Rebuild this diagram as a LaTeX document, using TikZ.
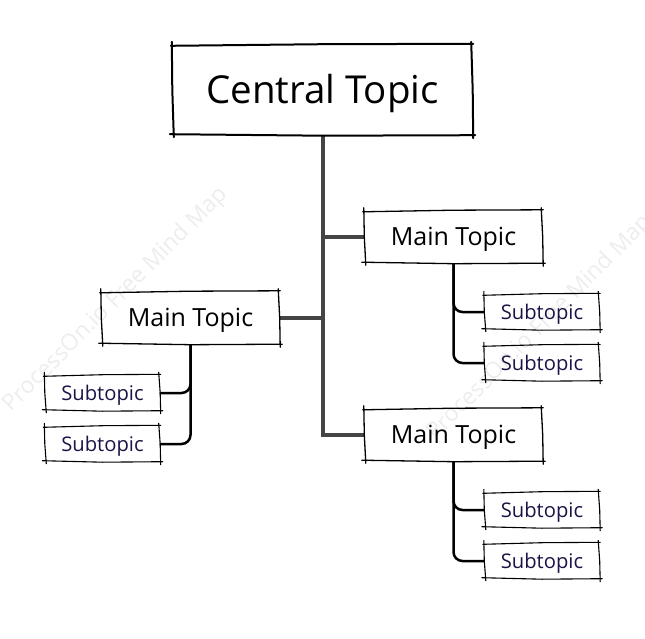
\documentclass[tikz,border=0pt]{standalone}
\usepackage{fontspec}
\setmainfont{Open Sans}
\usetikzlibrary{calc}
\definecolor{trunk}{HTML}{444444}
\definecolor{subtxt}{HTML}{1A1446}
\tikzset{
 central/.style={font=\fontsize{38.5}{44}\selectfont, minimum width=299pt, minimum height=90pt, inner sep=0pt, text height=27.5pt, text depth=0pt},
 maintopic/.style={font=\fontsize{25}{29}\selectfont, minimum width=177pt, minimum height=52pt, inner sep=0pt, text height=17.9pt, text depth=0pt},
 subtopic/.style={font=\fontsize{20.2}{24}\selectfont, text=subtxt, minimum width=114pt, minimum height=35pt, inner sep=0pt, text height=14.4pt, text depth=0pt},
 trunkline/.style={draw=trunk, line width=4pt},
 subline/.style={draw=black, line width=2.5pt, rounded corners=9pt},
 watermark/.style={rotate=45, text=black!7, font=\fontsize{23}{27}\selectfont},
}
\newcommand{\roughbox}[2]{%
 \draw[line width=#2, line cap=round]
   ($(#1.north west)+(-2,1)$) -- ($(#1.north)+(0,-0.6)$) -- ($(#1.north east)+(1,-1)$);
 \draw[line width=#2, line cap=round]
   ($(#1.north east)+(-1,-3)$) -- ($(#1.east)+(0.5,0)$) -- ($(#1.south east)+(1,3)$);
 \draw[line width=#2, line cap=round]
   ($(#1.south east)+(3,0)$) -- ($(#1.south)+(0,0.5)$) -- ($(#1.south west)+(-3,-1)$);
 \draw[line width=#2, line cap=round]
   ($(#1.south west)+(1,2)$) -- ($(#1.west)+(-0.5,0)$) -- ($(#1.north west)+(-1,-3)$);
}
\begin{document}
\begin{tikzpicture}[x=1pt,y=-1pt]
\useasboundingbox (0,0) rectangle (645,639);
\node[watermark] (wm1) at (116,300) {ProcessOn.io Free Mind Map};
\node[watermark] (wm2) at (540,328) {ProcessOn.io Free Mind Map};

\node[central] (c) at (322.5,90) {Central Topic};
\node[maintopic] (mr1) at (453.5,237) {Main Topic};
\node[maintopic] (ml) at (190.5,318) {Main Topic};
\node[maintopic] (mr2) at (453.5,435) {Main Topic};
\node[subtopic] (s11) at (542,312) {Subtopic};
\node[subtopic] (s12) at (542,363) {Subtopic};
\node[subtopic] (sl1) at (102.5,393) {Subtopic};
\node[subtopic] (sl2) at (102.5,444) {Subtopic};
\node[subtopic] (s21) at (542,510) {Subtopic};
\node[subtopic] (s22) at (542,561) {Subtopic};

\draw[trunkline] (c.south) |- (mr2.west);
\draw[trunkline] (mr1.west) -- (mr1.west -| c.south);
\draw[trunkline] (ml.east) -- (ml.east -| c.south);

\draw[subline] (mr1.south) |- (s11.west);
\draw[subline] (mr1.south) |- (s12.west);
\draw[subline] (ml.south) |- (sl1.east);
\draw[subline] (ml.south) |- (sl2.east);
\draw[subline] (mr2.south) |- (s21.west);
\draw[subline] (mr2.south) |- (s22.west);

\roughbox{c}{2pt}
\roughbox{mr1}{1.3pt}
\roughbox{ml}{1.3pt}
\roughbox{mr2}{1.3pt}
\roughbox{s11}{1.1pt}
\roughbox{s12}{1.1pt}
\roughbox{sl1}{1.1pt}
\roughbox{sl2}{1.1pt}
\roughbox{s21}{1.1pt}
\roughbox{s22}{1.1pt}
\end{tikzpicture}
\end{document}
